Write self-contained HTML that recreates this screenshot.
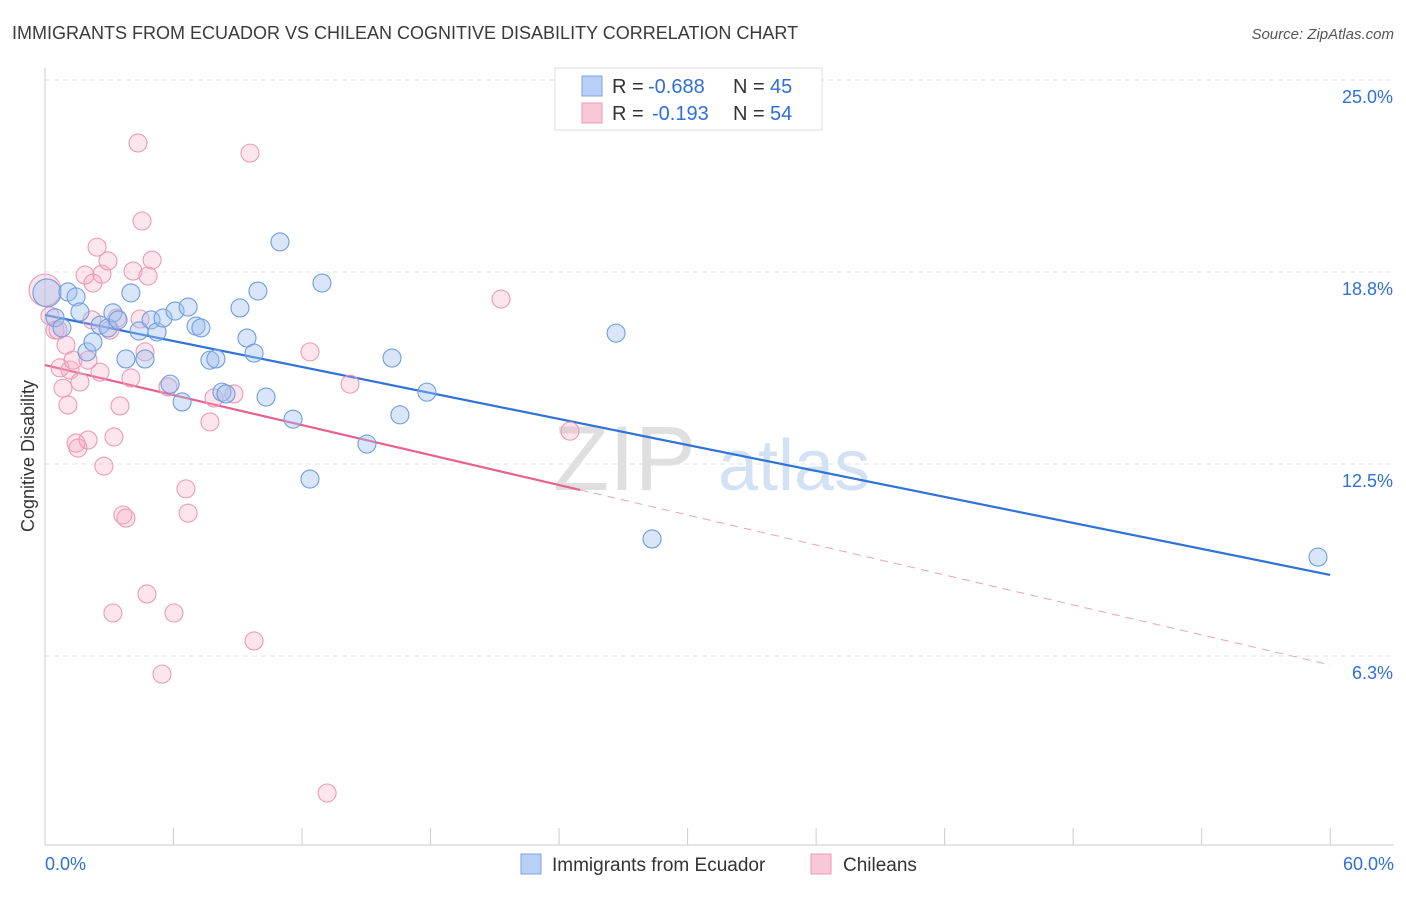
<!DOCTYPE html>
<html><head><meta charset="utf-8"><style>
body{margin:0;background:#fff;font-family:"Liberation Sans",sans-serif}
svg text{font-family:"Liberation Sans",sans-serif}
</style></head><body>
<svg id="chart" width="1406" height="892" xmlns="http://www.w3.org/2000/svg">
<text x="12" y="39" font-size="18" fill="#3a3a3a">IMMIGRANTS FROM ECUADOR VS CHILEAN COGNITIVE DISABILITY CORRELATION CHART</text>
<text x="1394" y="39" font-size="15" fill="#555" text-anchor="end" font-style="italic">Source: ZipAtlas.com</text>
<g>
<text x="553" y="490" font-size="92" fill="#d8d8d8" font-family="Liberation Serif" opacity="0.8">ZIP</text>
<text x="718" y="490" font-size="72" fill="#c9daf2" opacity="0.8">atlas</text>
</g>
<g id="grid"></g><g id="axes"></g><g id="lines"></g><g id="pts"></g>
<text transform="translate(34,456) rotate(-90)" font-size="18" fill="#333" text-anchor="middle">Cognitive Disability</text>
<g>
<rect x="555" y="68" width="267" height="62" fill="#fff" stroke="#ddd"/>
<rect x="582" y="76" width="20" height="20" fill="#b8d0f5" stroke="#7aa3e0"/>
<rect x="582" y="103" width="20" height="20" fill="#f8c8d8" stroke="#e899b5"/>
<text x="612" y="93" font-size="20" fill="#333">R =</text>
<text x="648" y="93" font-size="20" fill="#2f6fd6">-0.688</text>
<text x="733" y="93" font-size="20" fill="#333">N =</text>
<text x="770" y="93" font-size="20" fill="#2f6fd6">45</text>
<text x="612" y="120" font-size="20" fill="#333">R =</text>
<text x="652" y="120" font-size="20" fill="#2f6fd6">-0.193</text>
<text x="733" y="120" font-size="20" fill="#333">N =</text>
<text x="770" y="120" font-size="20" fill="#2f6fd6">54</text>
</g>
<g>
<rect x="521" y="854" width="20" height="20" fill="#b8d0f5" stroke="#7aa3e0"/>
<text x="552" y="871" font-size="19" fill="#333">Immigrants from Ecuador</text>
<rect x="811" y="854" width="20" height="20" fill="#f8c8d8" stroke="#e899b5"/>
<text x="843" y="871" font-size="19" fill="#333">Chileans</text>
</g>
</svg>
<script>
const blueX=[0.09,0.47,0.79,1.07,1.45,1.63,1.96,2.24,2.57,2.94,3.17,3.41,3.78,4.01,4.39,4.67,4.95,5.23,5.51,5.84,6.07,6.40,6.68,7.05,7.28,7.70,7.98,8.26,8.45,9.10,9.43,9.76,9.94,10.32,10.97,11.58,12.93,15.03,16.20,16.57,17.83,26.66,28.34,59.43,12.37];
const blueY=[18.07,17.26,16.93,18.10,17.94,17.45,16.15,16.47,17.02,16.93,17.42,17.19,15.92,18.07,16.83,15.92,17.19,16.80,17.25,15.10,17.48,14.52,17.61,16.99,16.93,15.88,15.92,14.84,14.78,17.58,16.60,16.11,18.13,14.68,19.73,13.96,18.39,13.15,15.95,14.10,14.84,16.76,10.06,9.47,12.01];
const pinkX=[0,0.23,0.47,0.61,0.70,0.84,0.98,1.07,1.17,1.31,1.45,1.54,1.63,1.87,2.01,2.19,2.24,2.43,2.57,2.66,2.75,2.94,3.03,3.22,3.36,3.50,3.64,3.78,4.01,4.11,4.34,4.53,4.67,4.76,4.81,5.00,5.46,5.74,6.02,6.58,6.68,7.70,7.89,8.82,9.57,9.76,12.37,13.17,14.24,21.29,24.51,3.17,4.44,2.01];
const pinkY=[18.16,17.32,16.86,16.86,15.63,14.97,16.37,14.42,15.56,15.88,13.18,13.02,15.17,18.65,13.28,17.19,18.39,19.56,15.49,18.68,12.43,19.11,16.86,13.38,17.25,14.39,10.84,10.74,15.30,18.78,22.95,20.41,16.15,8.27,18.62,19.14,5.66,15.01,7.65,11.69,10.90,13.87,14.65,14.78,22.62,6.74,16.15,1.79,15.10,17.87,13.57,7.65,17.22,15.88];
const yTicks=[25.0,18.8,12.5,6.3];
const yTickLabels=["25.0%","18.8%","12.5%","6.3%"];
const blueTrend=[17.35,8.89];
const pinkTrend=[15.72,5.96];
const pinkSolidEnd=24.98;
const NS="http://www.w3.org/2000/svg";
const X=v=>45+v*21.42, Y=v=>80+(25-v)*30.72;
function mk(p,t,a){const e=document.createElementNS(NS,t);for(const k in a)e.setAttribute(k,a[k]);document.getElementById(p).appendChild(e);return e;}
const gridVals=[25,18.75,12.5,6.25];
gridVals.forEach((g,i)=>{
 const l=mk('grid','line',{x1:45,x2:1394,y1:Y(g),y2:Y(g),stroke:'#e3e3e3','stroke-dasharray':'5,4'});
 
 
 const t=mk('axes','text',{x:1393,y:Y(g)+23,'font-size':18,fill:'#2f6fd6','text-anchor':'end'});
 t.textContent=yTickLabels[i];
 
 
});
let a=mk('axes','line',{x1:45,x2:45,y1:68,y2:845,stroke:'#ccc'});


a=mk('axes','line',{x1:45,x2:1394,y1:845,y2:845,stroke:'#ccc'});


for(let i=0;i<=10;i++){const t=mk('axes','line',{x1:X(i*6),x2:X(i*6),y1:828,y2:845,stroke:'#ccc'});
 
 }
let t=mk('axes','text',{x:45,y:870,'font-size':18,fill:'#2f6fd6'});t.textContent='0.0%';


t=mk('axes','text',{x:1394,y:870,'font-size':18,fill:'#2f6fd6','text-anchor':'end'});t.textContent='60.0%';


pinkX.forEach((x,i)=>{const c=mk('pts','circle',{cx:X(x),cy:Y(pinkY[i]),r:i==0?16:9,fill:'rgba(245,170,195,0.3)',stroke:'#ec9ab7','stroke-width':1.1});
 
 });
blueX.forEach((x,i)=>{const c=mk('pts','circle',{cx:X(x),cy:Y(blueY[i]),r:i==0?14:9,fill:'rgba(160,192,240,0.4)',stroke:'#6f9de0','stroke-width':1.1});
 
 });
const pAt=x=>pinkTrend[0]+(pinkTrend[1]-pinkTrend[0])*x/60;
let l=mk('lines','line',{x1:X(0),y1:Y(pinkTrend[0]),x2:X(pinkSolidEnd),y2:Y(pAt(pinkSolidEnd)),stroke:'#e8608e','stroke-width':2.2});


l=mk('lines','line',{x1:X(pinkSolidEnd),y1:Y(pAt(pinkSolidEnd)),x2:X(60),y2:Y(pinkTrend[1]),stroke:'#eea0ba','stroke-width':1,'stroke-dasharray':'8,6'});


l=mk('lines','line',{x1:X(0),y1:Y(blueTrend[0]),x2:X(60),y2:Y(blueTrend[1]),stroke:'#2f72d8','stroke-width':2.2});


</script>
</body></html>
